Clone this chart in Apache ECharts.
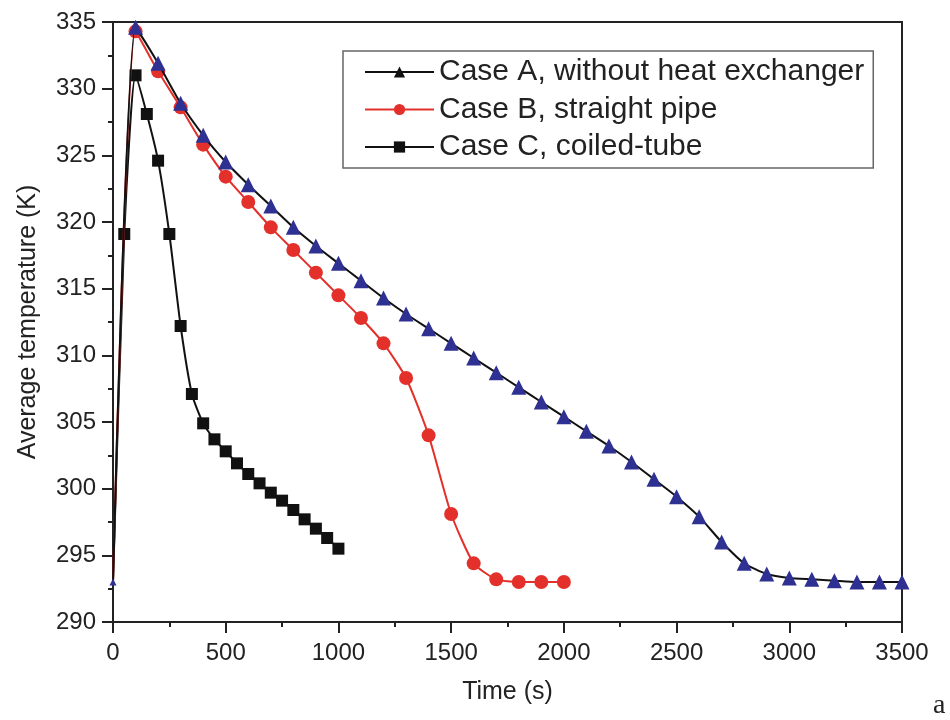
<!DOCTYPE html>
<html>
<head>
<meta charset="utf-8">
<script src="https://cdn.jsdelivr.net/npm/echarts@6.0.0/dist/echarts.min.js"></script>
<style>
html,body{margin:0;padding:0;background:#fff;}
#chart{width:950px;height:720px;}
</style>
</head>
<body>
<div id="chart"></div>
<script>
// ---- Data ----
const seriesNames = ['Case A, without heat exchanger', 'Case B, straight pipe', 'Case C, coiled-tube'];

const timeA = [0,100,200,300,400,500,600,700,800,900,1000,1100,1200,1300,1400,1500,1600,1700,1800,1900,2000,2100,2200,2300,2400,2500,2600,2700,2800,2900,3000,3100,3200,3300,3400,3500];
const tempA = [293,334.6,331.9,328.9,326.5,324.5,322.8,321.2,319.6,318.2,316.9,315.6,314.3,313.1,312.0,310.9,309.8,308.7,307.6,306.5,305.4,304.3,303.2,302.0,300.7,299.4,297.9,296.0,294.4,293.6,293.3,293.2,293.1,293.0,293.0,293.0];

const timeB = [0,100,200,300,400,500,600,700,800,900,1000,1100,1200,1300,1400,1500,1600,1700,1800,1900,2000];
const tempB = [293,334.3,331.3,328.6,325.8,323.4,321.5,319.6,317.9,316.2,314.5,312.8,310.9,308.3,304.0,298.1,294.4,293.2,293.0,293.0,293.0];

const timeC = [0,50,100,150,200,250,300,350,400,450,500,550,600,650,700,750,800,850,900,950,1000];
const tempC = [293,319.1,331.0,328.1,324.6,319.1,312.2,307.1,304.9,303.7,302.8,301.9,301.1,300.4,299.7,299.1,298.4,297.7,297.0,296.3,295.5];

const xTicks = {min: 0, max: 3500, interval: 500};
const yTicks = {min: 290, max: 335, interval: 5};

const xName = 'Time (s)';
const yName = 'Average temperature (K)';
const panelLabel = 'a';

// ---- Build ----
const pair = (xs, ys) => xs.map((x, i) => [x, ys[i]]);
const FONT = "'Liberation Sans', Arial, sans-serif";
const chart = echarts.init(document.getElementById('chart'), null, {renderer: 'canvas'});

const axisCommon = {
  axisLine: {show: true, onZero: false, lineStyle: {color: '#222', width: 2}},
  axisTick: {show: true, inside: false, length: 11, lineStyle: {color: '#222', width: 2}},
  minorTick: {show: true, splitNumber: 2, length: 5, lineStyle: {color: '#222', width: 2}},
  splitLine: {show: false},
  minorSplitLine: {show: false},
  nameTextStyle: {fontFamily: FONT, fontSize: 25, color: '#222'}
};
const sizeAt = (big, atZero) => (val) => (val[0] === 0 ? atZero : big);

const option = {
  backgroundColor: '#fff',
  animation: false,
  grid: {left: 113, right: 48, top: 22, bottom: 98, show: true, borderColor: '#222', borderWidth: 2, backgroundColor: 'transparent'},
  legend: {
    orient: 'vertical',
    left: 343,
    top: 51,
    width: 580,
    padding: [6, 9, 6, 21],
    itemGap: 7.5,
    itemWidth: 69,
    itemHeight: 14,
    borderColor: '#666',
    borderWidth: 1.5,
    backgroundColor: '#fff',
    textStyle: {fontFamily: FONT, fontSize: 30, color: '#222'},
    data: [
      {name: seriesNames[0], itemStyle: {color: '#111'}, lineStyle: {color: '#111', width: 2}},
      {name: seriesNames[1], itemStyle: {color: '#e3302a'}, lineStyle: {color: '#e3302a', width: 2}},
      {name: seriesNames[2], itemStyle: {color: '#111'}, lineStyle: {color: '#111', width: 2}}
    ]
  },
  xAxis: Object.assign({}, axisCommon, {
    type: 'value', min: xTicks.min, max: xTicks.max, interval: xTicks.interval,
    name: xName, nameLocation: 'middle', nameGap: 58,
    axisLabel: {fontFamily: FONT, fontSize: 24, color: '#222', margin: 19, formatter: (v) => String(v)}
  }),
  yAxis: Object.assign({}, axisCommon, {
    type: 'value', min: yTicks.min, max: yTicks.max, interval: yTicks.interval,
    name: yName, nameLocation: 'middle', nameGap: 72, nameRotate: 90,
    axisLabel: {fontFamily: FONT, fontSize: 24, color: '#222', margin: 17, formatter: (v) => String(v)}
  }),
  series: [
    {
      name: seriesNames[2], type: 'line', data: pair(timeC, tempC),
      smooth: 0.2, symbol: 'rect', symbolSize: sizeAt(12, 0),
      lineStyle: {color: '#111', width: 2}, itemStyle: {color: '#111'}, z: 2
    },
    {
      name: seriesNames[1], type: 'line', data: pair(timeB, tempB),
      smooth: 0.2, symbol: 'circle', symbolSize: sizeAt(14, 0),
      lineStyle: {color: '#e3302a', width: 2}, itemStyle: {color: '#e3302a'}, z: 3
    },
    {
      name: seriesNames[0], type: 'line', data: pair(timeA, tempA),
      smooth: 0.2, symbol: 'triangle', symbolSize: sizeAt(15, 7),
      lineStyle: {color: '#111', width: 2}, itemStyle: {color: '#2e3192'}, z: 4
    }
  ],
  graphic: [{
    type: 'text', left: 933, top: 692,
    style: {text: panelLabel, font: "28px 'Liberation Serif', 'DejaVu Serif', serif", fill: '#222'}
  }]
};
chart.setOption(option);
</script>
</body>
</html>
